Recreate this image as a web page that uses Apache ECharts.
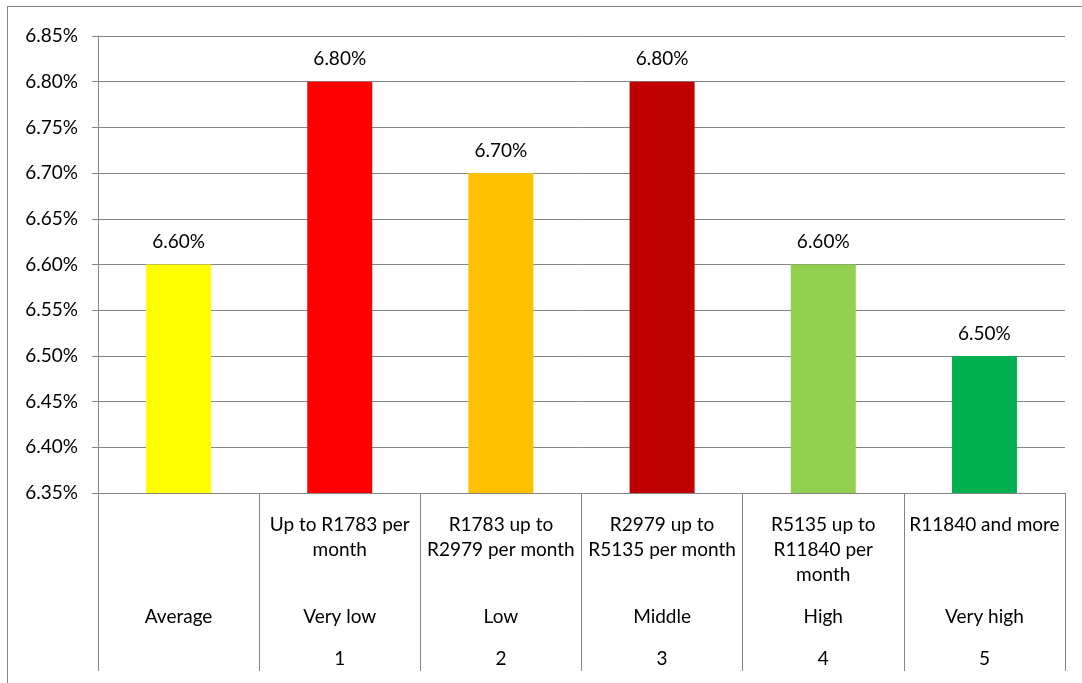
<!DOCTYPE html>
<html>
<head>
<meta charset="utf-8">
<script src="https://cdn.jsdelivr.net/npm/echarts@6/dist/echarts.min.js"></script>
<style>
  html, body { margin: 0; padding: 0; background: #ffffff; }
  #frame {
    position: absolute; left: 7px; top: 6px; width: 1200px; height: 800px;
    border-left: 1px solid #868686; border-top: 1px solid #868686;
  }
  #chart { position: absolute; left: 0; top: 0; width: 1082px; height: 683px; }
</style>
</head>
<body>
<div id="frame"></div>
<div id="chart"></div>
<script>
// Income groups (middle row of the category axis)
const groups = ['Average', 'Very low', 'Low', 'Middle', 'High', 'Very high'];
// Monthly income ranges (top row, already broken into lines)
const incomeRanges = [
  [],
  ['Up to R1783 per', 'month'],
  ['R1783 up to', 'R2979 per month'],
  ['R2979 up to', 'R5135 per month'],
  ['R5135 up to', 'R11840 per', 'month'],
  ['R11840 and more']
];
// Quintile numbers (bottom row)
const quintiles = ['', '1', '2', '3', '4', '5'];
// Rate per group, in percent
const rates = [6.60, 6.80, 6.70, 6.80, 6.60, 6.50];
const barColors = ['#FFFF00', '#FF0000', '#FFC000', '#C00000', '#92D050', '#00B050'];
// Value axis
const yMin = 6.35, yMax = 6.85, yStep = 0.05;

const FONT = 'Lato';
const FS = 19;
const GRAY = '#868686';

const chart = echarts.init(document.getElementById('chart'), null, { renderer: 'canvas' });

function categoryLabel(value, idx) {
  const lines = incomeRanges[idx].slice();
  while (lines.length < 3) lines.push(' ');
  const top = lines.map(l => '{a|' + l + '}').join('\n');
  return top + '\n{b|' + groups[idx] + '}\n{c|' + (quintiles[idx] || ' ') + '}';
}

chart.setOption({
  animation: false,
  grid: { left: 98, right: 17, top: 36, bottom: 190, containLabel: false },
  xAxis: {
    type: 'category',
    data: groups,
    boundaryGap: true,
    axisLine: { show: true, lineStyle: { color: GRAY, width: 1 } },
    axisTick: { show: true, interval: 0, length: 178, lineStyle: { color: GRAY, width: 1 } },
    axisLabel: {
      interval: 0,
      margin: 19,
      formatter: categoryLabel,
      rich: {
        a: { fontFamily: FONT, fontSize: FS, color: '#000', lineHeight: 25, align: 'center' },
        b: { fontFamily: FONT, fontSize: FS, color: '#000', lineHeight: 59, align: 'center' },
        c: { fontFamily: FONT, fontSize: FS, color: '#000', lineHeight: 25, align: 'center' }
      }
    },
    splitLine: { show: false }
  },
  yAxis: {
    type: 'value',
    min: yMin,
    max: yMax,
    interval: yStep,
    axisLine: { show: true, lineStyle: { color: GRAY, width: 1 } },
    axisTick: { show: true, length: 6, lineStyle: { color: GRAY, width: 1 } },
    axisLabel: {
      margin: 20,
      fontFamily: FONT, fontSize: FS, color: '#000',
      formatter: v => v.toFixed(2) + '%'
    },
    splitLine: { show: true, lineStyle: { color: GRAY, width: 1 } }
  },
  series: [{
    type: 'bar',
    barWidth: 65,
    data: rates.map((v, i) => ({ value: v, itemStyle: { color: barColors[i] } })),
    label: {
      show: true,
      position: 'top',
      distance: 13,
      fontFamily: FONT, fontSize: FS, color: '#000',
      formatter: p => p.value.toFixed(2) + '%'
    }
  }]
});
</script>
</body>
</html>
